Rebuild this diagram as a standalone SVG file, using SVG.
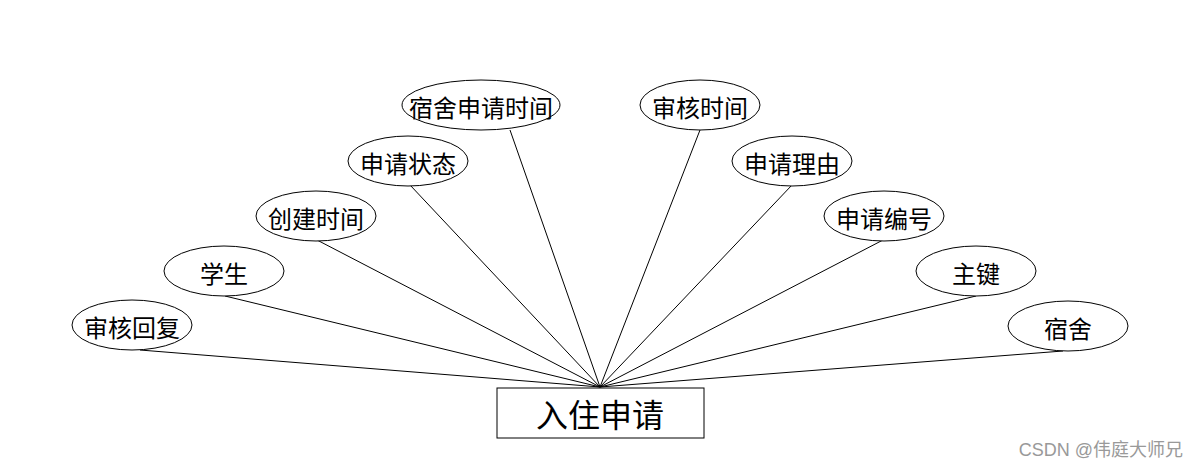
<svg xmlns="http://www.w3.org/2000/svg" width="1200" height="468" viewBox="0 0 1200 468">
<style>
.n ellipse{fill:#fff;stroke:#000;stroke-width:1}
.t{font-family:"Noto Sans CJK SC","Liberation Sans",sans-serif;font-size:24px;fill:#000;text-anchor:middle;dominant-baseline:central}
#edges line{stroke:#000;stroke-width:1}
</style>
<rect width="1200" height="468" fill="#fff"/>
<g id="edges">
<line x1="140" y1="350" x2="600" y2="387"/>
<line x1="225" y1="296" x2="600" y2="387"/>
<line x1="317" y1="240" x2="600" y2="387"/>
<line x1="410" y1="185" x2="600" y2="387"/>
<line x1="510" y1="130" x2="600" y2="387"/>
<line x1="700" y1="130" x2="600" y2="387"/>
<line x1="792" y1="185" x2="600" y2="387"/>
<line x1="883" y1="240" x2="600" y2="387"/>
<line x1="976" y1="296" x2="600" y2="387"/>
<line x1="1063" y1="351" x2="600" y2="387"/>
</g>
<g id="entity"><rect x="497" y="388" width="207" height="50" fill="#fff" stroke="#000"/><text x="600" y="413" class="t" style="font-size:32px">入住申请</text></g>
<g id="a1" class="n"><ellipse cx="132" cy="325" rx="60" ry="25"/><text x="132" y="326" class="t">审核回复</text></g>
<g id="a2" class="n"><ellipse cx="224" cy="271" rx="60" ry="25"/><text x="224" y="272" class="t">学生</text></g>
<g id="a3" class="n"><ellipse cx="316" cy="216" rx="60" ry="25"/><text x="316" y="217" class="t">创建时间</text></g>
<g id="a4" class="n"><ellipse cx="408" cy="161" rx="60" ry="25"/><text x="408" y="162" class="t">申请状态</text></g>
<g id="a5" class="n"><ellipse cx="481" cy="105" rx="79" ry="25"/><text x="481" y="106" class="t">宿舍申请时间</text></g>
<g id="a6" class="n"><ellipse cx="700" cy="105" rx="60" ry="25"/><text x="700" y="106" class="t">审核时间</text></g>
<g id="a7" class="n"><ellipse cx="792" cy="161" rx="60" ry="25"/><text x="792" y="162" class="t">申请理由</text></g>
<g id="a8" class="n"><ellipse cx="884" cy="216" rx="60" ry="25"/><text x="884" y="217" class="t">申请编号</text></g>
<g id="a9" class="n"><ellipse cx="976" cy="271" rx="60" ry="25"/><text x="976" y="272" class="t">主键</text></g>
<g id="a10" class="n"><ellipse cx="1068" cy="326" rx="60" ry="25"/><text x="1068" y="327" class="t">宿舍</text></g>
<text x="1183" y="450" style="font-family:'Liberation Sans','Noto Sans CJK SC',sans-serif;font-size:18px;fill:#999;text-anchor:end;dominant-baseline:central">CSDN @伟庭大师兄</text>
</svg>
